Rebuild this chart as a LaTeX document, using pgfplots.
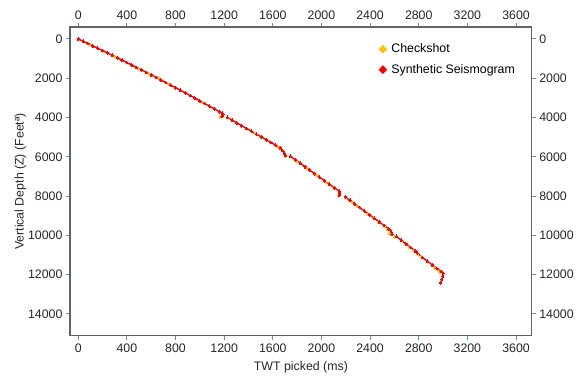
\documentclass[border=0pt]{standalone}
\usepackage{pgfplots}
\pgfplotsset{compat=1.18}
\usepackage{fontspec}
\setmainfont{Liberation Sans}
\definecolor{tickblue}{RGB}{91,141,214}
\definecolor{axgray}{RGB}{100,100,100}
\definecolor{chk}{RGB}{255,192,0}
\definecolor{syn}{RGB}{255,0,0}
\pgfplotsset{
  common/.style={
    scale only axis, width=462bp, height=309bp,
    xmin=-68, xmax=3730, ymin=-610, ymax=15120, y dir=reverse,
    xtick={0,400,...,3600}, ytick={0,2000,...,14000},
    scaled ticks=false,
    /pgf/number format/assume math mode=true,
    /pgf/number format/set thousands separator={},
    tick align=outside, major tick length=4bp,
    tick style={tickblue, line width=1pt},
    axis line style={axgray, line width=1.1pt},
    ticklabel style={font=\fontsize{12.4}{14}\selectfont, text=black!85},
    label style={font=\fontsize{12.4}{14}\selectfont, text=black!85},
  }
}
\begin{document}
\begin{tikzpicture}
\begin{axis}[common, name=ax,
  xtick pos=both, ytick pos=both,
  xticklabel pos=lower, yticklabel pos=left,
  xlabel={TWT picked (ms)}, ylabel={Vertical Depth (Z) (Feetª)},
  xlabel style={yshift=-3bp}, ylabel style={yshift=-5bp},
  unbounded coords=jump,
  legend style={draw=none, fill=none, at={(0.668,0.952)}, anchor=north west,
    font=\fontsize{12.4}{14}\selectfont, row sep=6bp, inner sep=0pt},
  legend cell align=left,
]
\addplot[chk, only marks, mark=diamond*, mark size=1.5pt,
  legend image code/.code={\fill[chk, draw=none] (0bp,4.4bp)--(4.2bp,0bp)--(0bp,-4.4bp)--(-4.2bp,0bp)--cycle; \path[draw=none, fill=none] (-4.2bp,0bp) rectangle (6.5bp,0.1bp);}] coordinates {
(0,30)(100,300)(200,610)(300,920)(400,1230)(495,1520)(580,1790)(660,1990)(740,2300)(800,2510)(880,2770)(960,3040)(1020,3250)(1080,3460)(1160,3730)(1165,4000)
(1230,4020)(1300,4290)(1385,4590)(1450,4820)(1500,5010)(1580,5290)(1640,5520)(1700,5990)
(1740,5990)(1800,6270)(1880,6620)(1960,6960)(2040,7310)(2100,7590)(2140,7990)
(2200,8090)(2250,8320)(2290,8520)(2380,8930)(2430,9150)(2470,9350)(2520,9560)(2540,9730)(2555,9920)
(2600,10090)(2660,10300)(2720,10610)(2760,10800)(2790,10960)(2820,11080)(2870,11350)(2930,11660)(2960,11820)(2975,11900)
};
\addlegendentry{Checkshot}
\addplot[syn, line width=1.4pt, mark=diamond*, mark size=1.4pt, mark options={line width=0pt},
  legend image code/.code={\fill[syn, draw=none] (0bp,4.4bp)--(4.2bp,0bp)--(0bp,-4.4bp)--(-4.2bp,0bp)--cycle; \path[draw=none, fill=none] (-4.2bp,0bp) rectangle (6.5bp,0.1bp);}] coordinates {
(0,0)(40,116)(80,234)(120,352)(160,470)(200,590)(240,710)(280,832)(320,954)(360,1076)(400,1200)(440,1324)(480,1450)(520,1576)(560,1702)(600,1830)(640,1958)(680,2088)(720,2218)(760,2348)(800,2480)(840,2612)(880,2746)(920,2880)(960,3014)(1000,3150)(1040,3286)(1080,3424)(1120,3562)(1160,3700)(1185,3788)(1190,3840)(1188,3900)(1180,3950)
(nan,nan)
(1225,3990)(1265,4132)(1305,4275)(1345,4417)(1385,4560)(1425,4702)(1465,4844)(1505,4987)(1545,5129)(1585,5272)(1625,5414)(1660,5540)(1680,5680)(1695,5820)(1705,5930)
(nan,nan)
(1745,5975)(1785,6152)(1825,6329)(1865,6506)(1905,6683)(1945,6861)(1985,7038)(2025,7215)(2065,7392)(2105,7569)(2145,7746)(2152,7800)(2150,7880)(2145,7950)
(nan,nan)
(2195,8035)(2235,8218)(2275,8401)(2315,8584)(2355,8767)(2395,8950)(2435,9133)(2475,9316)(2515,9499)(2555,9682)(2570,9750)(2578,9850)(2580,9950)
(nan,nan)
(2615,10050)(2655,10240)(2695,10430)(2735,10620)(2770,10790)(2790,10910)(2830,11130)(2870,11310)(2910,11500)(2950,11690)(2985,11840)(3000,11950)(2998,12100)(2990,12250)(2978,12420)
};
\addlegendentry{Synthetic Seismogram}
\end{axis}
\begin{axis}[common,
  xtick pos=both, ytick pos=both,
  xticklabel pos=upper, yticklabel pos=right,
  axis line style={draw=none}, tick style={draw=none},
]
\end{axis}
\useasboundingbox ([xshift=-70bp,yshift=-43bp]ax.south west) rectangle ([xshift=45bp,yshift=27bp]ax.north east);
\end{tikzpicture}
\end{document}
